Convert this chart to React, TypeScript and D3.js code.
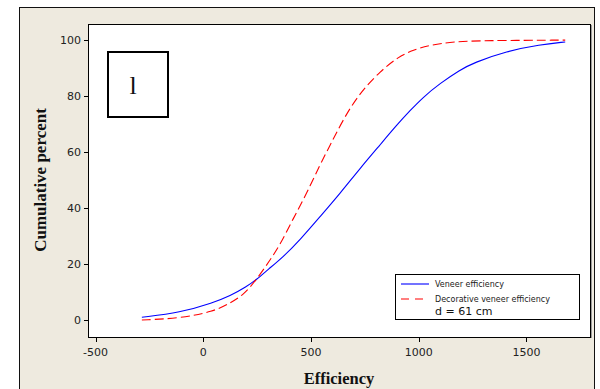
import React from "react";
import * as d3 from "d3";

const veneerX = [-285, -108, 47, 124, 201, 248, 300, 372, 449, 542, 635, 728, 820, 898, 960, 1021, 1099, 1192, 1253, 1408, 1563, 1680];
const veneerY = [1.0, 2.6, 6.2, 8.6, 11.9, 14.5, 18.0, 22.6, 28.6, 36.9, 45.2, 54.2, 62.5, 69.6, 74.8, 79.6, 84.5, 89.3, 91.8, 96.0, 98.3, 99.3];
const decoX = [-285, -108, 47, 124, 186, 248, 310, 356, 418, 480, 542, 588, 620, 681, 743, 820, 905, 975, 1052, 1161, 1300, 1680];
const decoY = [0.0, 0.6, 3.0, 6.0, 8.9, 14.5, 21.4, 26.8, 36.3, 45.2, 55.5, 62.3, 67.2, 75.8, 82.4, 88.7, 94.0, 96.4, 98.2, 99.4, 99.8, 99.95];
const xTicks = [-500, 0, 500, 1000, 1500];
const yTicks = [0, 20, 40, 60, 80, 100];
const legendLabels = ["Veneer efficiency", "Decorative veneer efficiency"];
const legendNote = "d = 61 cm";
const panelLabel = "l";

export default function App() {
  const L = 88, R = 590, T = 24, B = 337;
  const x = d3.scaleLinear().domain([-535, 1795]).range([L, R]);
  const y = d3.scaleLinear().domain([-6.07, 105.7]).range([B, T]);
  const line = d3
    .line<[number, number]>()
    .x((d) => x(d[0]))
    .y((d) => y(d[1]))
    .curve(d3.curveBasis);
  const blue = veneerX.map((v, i) => [v, veneerY[i]] as [number, number]);
  const red = decoX.map((v, i) => [v, decoY[i]] as [number, number]);
  const tickFont = "'DejaVu Sans', Verdana, sans-serif";
  const serif = "'Liberation Serif', 'Times New Roman', serif";
  return (
    <svg
      width={600}
      height={389}
      style={{ position: "absolute", left: 0, top: 0 }}
      xmlns="http://www.w3.org/2000/svg"
    >
      <rect x={0} y={0} width={600} height={389} fill="#ffffff" />
      <rect x={19.5} y={7.5} width={575} height={420} fill="#EEEADF" stroke="#111" strokeWidth={1} />
      <rect x={L + 0.5} y={T + 0.5} width={R - L} height={B - T} fill="#ffffff" stroke="#000" strokeWidth={1} />
      <line x1={R + 1.5} y1={T + 1} x2={R + 1.5} y2={B + 1} stroke="#999" strokeWidth={1} />
      {yTicks.map((t) => (
        <g key={"y" + t}>
          <line x1={L - 4} x2={L} y1={Math.round(y(t)) + 0.5} y2={Math.round(y(t)) + 0.5} stroke="#000" />
          <text x={L - 7} y={y(t)} dy="0.36em" textAnchor="end" fontFamily={tickFont} fontSize={11} fill="#222">
            {t}
          </text>
        </g>
      ))}
      {xTicks.map((t) => (
        <g key={"x" + t}>
          <line y1={B + 1} y2={B + 5} x1={Math.round(x(t)) + 0.5} x2={Math.round(x(t)) + 0.5} stroke="#000" />
          <text x={x(t)} y={B + 19} textAnchor="middle" fontFamily={tickFont} fontSize={11} fill="#222">
            {t}
          </text>
        </g>
      ))}
      <text x={339} y={384} textAnchor="middle" fontFamily={serif} fontWeight="bold" fontSize={16.5} fill="#111">
        Efficiency
      </text>
      <text
        transform={`translate(46,180) rotate(-90)`}
        textAnchor="middle"
        fontFamily={serif}
        fontWeight="bold"
        fontSize={17}
        fill="#111"
      >
        Cumulative percent
      </text>
      <path d={line(blue) || ""} fill="none" stroke="#0000ff" strokeWidth={1.1} />
      <path d={line(red) || ""} fill="none" stroke="#ff0000" strokeWidth={1.1} strokeDasharray="9,4" />
      <rect x={108} y={52} width={60} height={65} fill="#ffffff" stroke="#000" strokeWidth={2} />
      <text x={133} y={94} textAnchor="middle" fontFamily={serif} fontSize={26} fill="#111">
        {panelLabel}
      </text>
      <rect x={395.5} y={274.5} width={184} height={45} fill="#ffffff" stroke="#000" strokeWidth={1} />
      <line x1={401} x2={429} y1={284} y2={284} stroke="#0000ff" strokeWidth={1.1} />
      <line x1={401} x2={429} y1={299} y2={299} stroke="#ff0000" strokeWidth={1.1} strokeDasharray="8,6" />
      <text x={435} y={287.3} fontFamily={tickFont} fontSize={8} fill="#222">
        {legendLabels[0]}
      </text>
      <text x={435} y={301.7} fontFamily={tickFont} fontSize={8} fill="#222">
        {legendLabels[1]}
      </text>
      <text x={435} y={314.5} fontFamily={tickFont} fontSize={11} fill="#111">
        {legendNote}
      </text>
    </svg>
  );
}
